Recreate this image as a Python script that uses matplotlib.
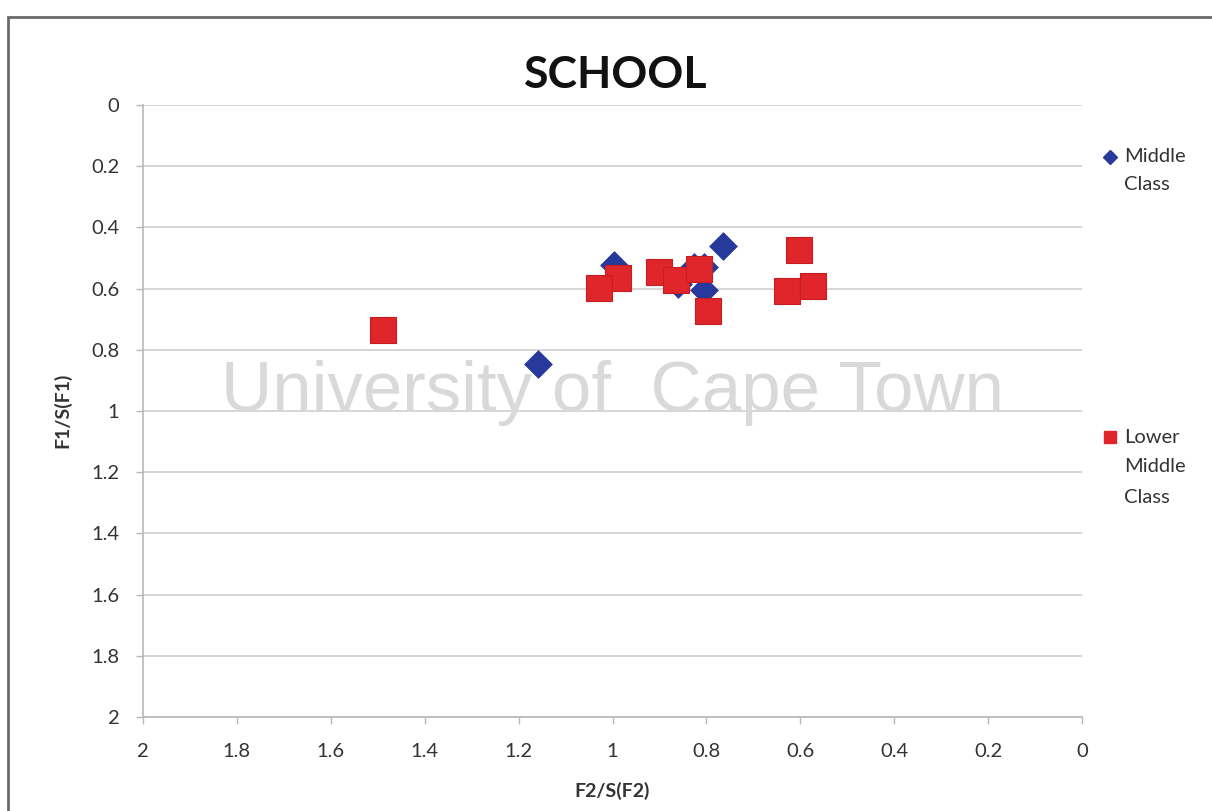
import matplotlib
matplotlib.use("Agg")
import matplotlib.pyplot as plt
from matplotlib.lines import Line2D
from matplotlib.patches import Rectangle

# Data
mc_x = [0.997, 0.86, 0.826, 0.805, 0.805, 0.764, 1.159]
mc_y = [0.523, 0.585, 0.528, 0.530, 0.605, 0.461, 0.847]
lmc_x = [0.988, 1.029, 0.90, 0.864, 0.815, 0.796, 0.602, 0.628, 0.574, 1.488]
lmc_y = [0.565, 0.598, 0.546, 0.572, 0.536, 0.673, 0.473, 0.608, 0.592, 0.735]
ticks = [0, 0.2, 0.4, 0.6, 0.8, 1.0, 1.2, 1.4, 1.6, 1.8, 2.0]
tick_labels = ["0", "0.2", "0.4", "0.6", "0.8", "1", "1.2", "1.4", "1.6", "1.8", "2"]

BLUE = "#27399a"
RED = "#e0262a"
FONT = "Lato"

fig = plt.figure(figsize=(12.12, 8.11), dpi=100)
fig.patch.set_facecolor("white")
W, H = 1212, 811

# outer chart border
fig.add_artist(Rectangle((8 / W, -0.05), 1.1, (1 - 17 / H) + 0.05, transform=fig.transFigure,
                         fill=False, edgecolor="#6a6a6a", linewidth=2.0))

ax = fig.add_axes([143 / W, 1 - 717 / H, (1082 - 143) / W, (717 - 105) / H])
ax.set_xlim(2, 0)
ax.set_ylim(2, 0)
ax.set_xticks(ticks)
ax.set_xticklabels(tick_labels)
ax.set_yticks(ticks)
ax.set_yticklabels(tick_labels)
ax.grid(axis="y", color="#cfcfcf", linewidth=1.2, zorder=0)
ax.set_axisbelow(True)
for s in ["top", "right"]:
    ax.spines[s].set_visible(False)
for s in ["left", "bottom"]:
    ax.spines[s].set_color("#b8b8b8")
    ax.spines[s].set_linewidth(1.2)
ax.tick_params(axis="both", colors="#b8b8b8", length=5, width=1.0, labelcolor="#333333",
               labelsize=14.5)
ax.tick_params(axis="y", pad=12)
ax.tick_params(axis="x", pad=14)
for lab in ax.get_xticklabels() + ax.get_yticklabels():
    lab.set_fontfamily(FONT)

# watermark
ax.text(0.5, 0.53, "University of  Cape Town", transform=ax.transAxes, ha="center", va="center",
        fontsize=51, color="#d9d9d9", family="Liberation Sans", zorder=1)

ax.scatter(mc_x, mc_y, marker="D", s=200, color=BLUE, edgecolors=BLUE, linewidths=0.5, zorder=3)
ax.scatter(lmc_x, lmc_y, marker="s", s=330, color=RED, edgecolors="#c41e22", linewidths=0.8, zorder=4)

fig.text(616 / W, 1 - 75 / H, "SCHOOL", ha="center", va="center", fontsize=32,
         fontweight="bold", family=FONT, color="#111111")
fig.text(612 / W, 1 - 791 / H, "F2/S(F2)", ha="center", va="center", fontsize=14,
         fontweight="bold", family=FONT, color="#333333")
fig.text(62 / W, 1 - 410 / H, "F1/S(F1)", ha="center", va="center", fontsize=14,
         fontweight="bold", family=FONT, color="#333333", rotation=90)

# legend
fig.add_artist(Line2D([1110 / W], [1 - 157 / H], marker="D", markersize=7, color=BLUE,
                      linestyle="none", transform=fig.transFigure))
fig.text(1124 / W, 1 - 157 / H, "Middle", ha="left", va="center", fontsize=14.5, family=FONT, color="#333333")
fig.text(1124 / W, 1 - 185 / H, "Class", ha="left", va="center", fontsize=14.5, family=FONT, color="#333333")
fig.add_artist(Line2D([1110 / W], [1 - 437 / H], marker="s", markersize=9, color=RED,
                      linestyle="none", transform=fig.transFigure))
fig.text(1124 / W, 1 - 437 / H, "Lower", ha="left", va="center", fontsize=14.5, family=FONT, color="#333333")
fig.text(1124 / W, 1 - 467 / H, "Middle", ha="left", va="center", fontsize=14.5, family=FONT, color="#333333")
fig.text(1124 / W, 1 - 497 / H, "Class", ha="left", va="center", fontsize=14.5, family=FONT, color="#333333")

fig.savefig("out.png", dpi=100)
